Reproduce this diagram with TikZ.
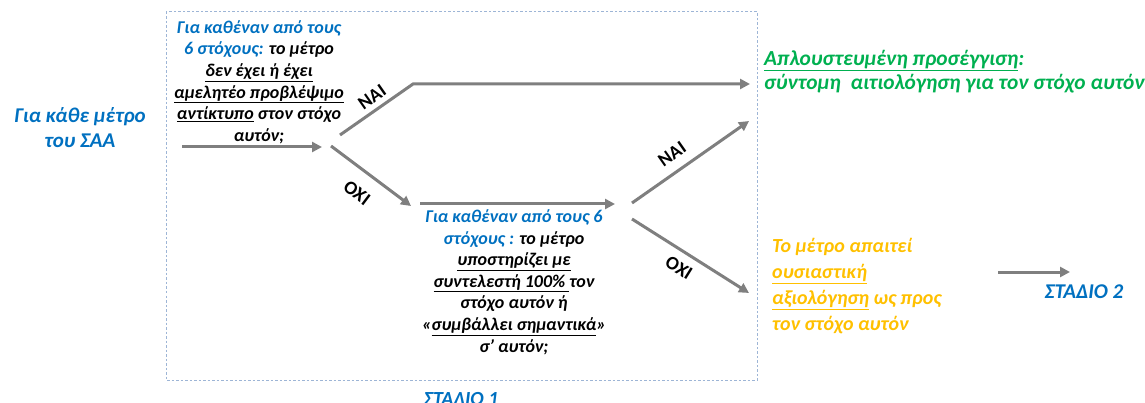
\documentclass[tikz,border=0pt]{standalone}
\usepackage{fontspec}
\setmainfont{Carlito}
\usetikzlibrary{arrows.meta}
\definecolor{saablue}{HTML}{0070C0}
\definecolor{saagreen}{HTML}{00B050}
\definecolor{saaorange}{HTML}{FFC000}
\definecolor{arrgray}{HTML}{7F7F7F}
\definecolor{boxblue}{HTML}{9DB5D6}

\begin{document}
\begin{tikzpicture}[x=1pt,y=-1pt,>={Triangle[length=10pt,width=10pt]},
        arr/.style={->,draw=arrgray,line width=3pt},
        txt/.style={font=\bfseries\itshape,inner sep=0pt},
        yesno/.style={font=\bfseries\fontsize{19}{22}\selectfont,inner sep=0pt}]
    \useasboundingbox (0,0) rectangle (1145,403);

    % dashed frame of stage 1
    \draw[boxblue, line width=1pt, dash pattern=on 2.5pt off 2pt] (166,12) rectangle (757,380);

    \node[txt, text=saablue, align=center, font=\bfseries\itshape\fontsize{21}{25}\selectfont]
        (metro) at (80,128) {Για κάθε μέτρο\\ του ΣΑΑ};
    \node[txt, align=center, font=\bfseries\itshape\fontsize{18}{21.6}\selectfont]
        (q1) at (259,82) {\textcolor{saablue}{Για καθέναν από τους}\\
            \textcolor{saablue}{6 στόχους:} το μέτρο\\
            \underline{δεν έχει ή έχει}\\
            \underline{αμελητέο προβλέψιμο}\\
            \underline{αντίκτυπο} στον στόχο\\
            αυτόν;};
    \node[txt, align=center, font=\bfseries\itshape\fontsize{18}{21.6}\selectfont]
        (q2) at (514,282) {\textcolor{saablue}{Για καθέναν από τους 6}\\
            \textcolor{saablue}{στόχους :} το μέτρο\\
            \underline{υποστηρίζει με}\\
            \underline{συντελεστή 100\% }τον\\
            στόχο αυτόν ή\\
            «\underline{συμβάλλει σημαντικά}»\\
            σ’ αυτόν;};
    \node[txt, text=saagreen, align=left, anchor=west, font=\bfseries\itshape\fontsize{21.4}{24}\selectfont]
        (simple) at (764,72) {\underline{Απλουστευμένη προσέγγιση}:\\
            σύντομη \ αιτιολόγηση για τον στόχο αυτόν};
    \node[txt, text=saaorange, align=left, anchor=west, font=\bfseries\itshape\fontsize{20}{26}\selectfont]
        (full) at (772,286) {Το μέτρο απαιτεί\\
            \underline{ουσιαστική}\\
            \underline{αξιολόγηση} ως προς\\
            τον στόχο αυτόν};
    \node[txt, text=saablue, font=\bfseries\itshape\fontsize{21}{24}\selectfont]
        (st2) at (1084,292) {ΣΤΑΔΙΟ 2};
    \node[txt, text=saablue, anchor=base, font=\bfseries\itshape\fontsize{20}{24}\selectfont]
        (st1) at (461,405) {ΣΤΑΔΙΟ 1};

    \node[yesno, rotate=35]  (yes1) at (372,97)  {ΝΑΙ};
    \node[yesno, rotate=-37] (no1)  at (357,193) {ΟΧΙ};
    \node[yesno, rotate=35]  (yes2) at (672,154) {ΝΑΙ};
    \node[yesno, rotate=-32] (no2)  at (679,268) {ΟΧΙ};

    \coordinate (in1) at (182,147);  \coordinate (in2) at (322,147);
    \coordinate (y1a) at (340,135);  \coordinate (y1b) at (413,84);
    \coordinate (y1c) at (750,84);
    \coordinate (n1a) at (331,146);  \coordinate (n1b) at (411,206);
    \coordinate (m1)  at (420,204);  \coordinate (m2)  at (615,204);
    \coordinate (y2a) at (632,203);  \coordinate (y2b) at (749,121);
    \coordinate (n2a) at (632,219);  \coordinate (n2b) at (749,293);
    \coordinate (s1)  at (998,272);  \coordinate (s2)  at (1070,272);

    \draw[arr] (in1) -- (in2);
    \draw[arr] (y1a) -- (y1b) -- (y1c);
    \draw[arr] (n1a) -- (n1b);
    \draw[arr] (m1) -- (m2);
    \draw[arr] (y2a) -- (y2b);
    \draw[arr] (n2a) -- (n2b);
    \draw[arr] (s1) -- (s2);
\end{tikzpicture}
\end{document}
